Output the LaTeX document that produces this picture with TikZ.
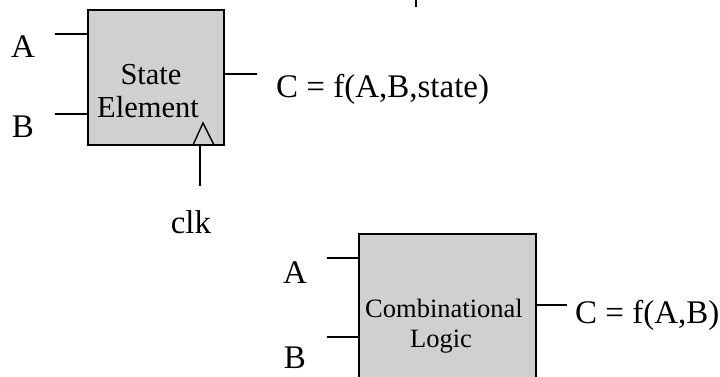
\documentclass[tikz,border=0pt]{standalone}
\usepackage{fontspec}
\setmainfont{Liberation Serif}
\definecolor{blockgray}{HTML}{D0D0D0}
\tikzset{
  blockbox/.style={draw=black,fill=blockgray,line width=1.6pt,inner sep=0pt},
  wire/.style={line width=1.6pt},
  pinlabel/.style={inner sep=0pt,font=\fontsize{33}{39}\selectfont},
  boxtext/.style={inner sep=0pt,anchor=base,font=\fontsize{30.5}{36}\selectfont},
  logictext/.style={inner sep=0pt,anchor=base,font=\fontsize{26.5}{30}\selectfont}
}
\begin{document}
\begin{tikzpicture}[x=1pt,y=-1pt]
\clip (0,0) rectangle (720,377);
% state element
\node[blockbox,minimum width=136pt,minimum height=135pt] (se) at (156,77.5) {};
\node[boxtext] (setop) at (151,85) {State};
\node[boxtext] (sebot) at (148,118) {Element};
\coordinate (seA) at (55,34);
\coordinate (seB) at (55,114);
\coordinate (seC) at (257,74);
\coordinate (clkend) at (200,186);
\draw[wire] (seA) -- (seA -| se.west);
\draw[wire] (seB) -- (seB -| se.west);
\draw[wire] (se.east |- seC) -- (seC);
\draw[wire] (clkend) -- (clkend |- se.south);
\draw[line width=1.4pt,line join=miter] (193,145) -- (203,123) -- (214,145);
\node[pinlabel,anchor=base] (seAlbl) at (23,58) {A};
\node[pinlabel,anchor=base] (seBlbl) at (23,138) {B};
\node[pinlabel,anchor=base west] (seClbl) at (276,98) {C = f(A,B,state)};
\node[pinlabel,anchor=base] (clklbl) at (191,233) {clk};
% combinational logic
\node[blockbox,minimum width=177pt,minimum height=200pt] (cl) at (447.5,334) {};
\node[logictext] (cltop) at (444,317) {Combinational};
\node[logictext] (clbot) at (441,347) {Logic};
\coordinate (clA) at (327,258);
\coordinate (clB) at (327,337);
\coordinate (clC) at (567,305);
\draw[wire] (clA) -- (clA -| cl.west);
\draw[wire] (clB) -- (clB -| cl.west);
\draw[wire] (cl.east |- clC) -- (clC);
\node[pinlabel,anchor=base] (clAlbl) at (295,283) {A};
\node[pinlabel,anchor=base] (clBlbl) at (295,368) {B};
\node[pinlabel,anchor=base west] (clClbl) at (575,323) {C = f(A,B)};
% cut-off mark at top
\draw[wire] (416,0) -- (416,7);
\end{tikzpicture}
\end{document}
